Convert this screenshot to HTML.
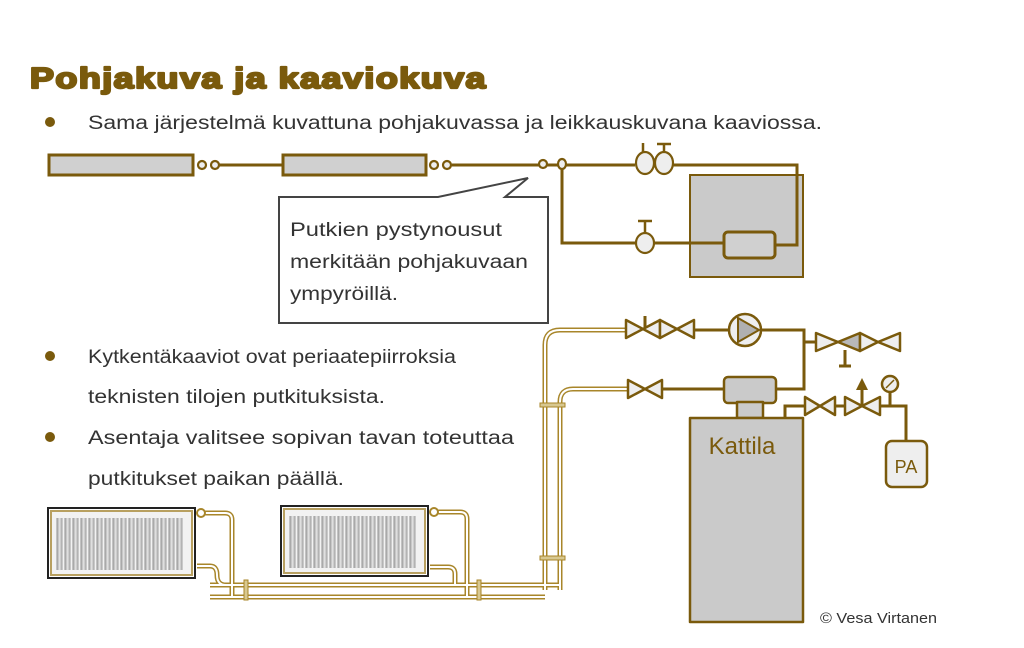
<!DOCTYPE html>
<html><head><meta charset="utf-8"><style>
html,body{margin:0;padding:0;background:#fff;}
svg{display:block;}
text{font-family:"Liberation Sans",sans-serif;}
</style></head><body>
<svg width="1024" height="648" viewBox="0 0 1024 648" xmlns="http://www.w3.org/2000/svg">
<defs>
<linearGradient id="fin" x1="0" y1="0" x2="1" y2="0"><stop offset="0" stop-color="#8a8a8a"/><stop offset="0.5" stop-color="#e6e6e6"/><stop offset="1" stop-color="#9a9a9a"/></linearGradient>
<pattern id="fins1" x="56" y="0" width="8" height="648" patternUnits="userSpaceOnUse"><rect x="0.5" y="0" width="6" height="648" fill="url(#fin)"/></pattern>
<pattern id="fins2" x="289" y="0" width="8" height="648" patternUnits="userSpaceOnUse"><rect x="0.5" y="0" width="6" height="648" fill="url(#fin)"/></pattern>
</defs>
<rect width="1024" height="648" fill="#fff"/>
<!-- title -->
<text x="30" y="88" font-size="29" font-weight="bold" fill="#7a5a0c" letter-spacing="1.2" textLength="457" lengthAdjust="spacingAndGlyphs" stroke="#7a5a0c" stroke-width="2.2" stroke-linejoin="round">Pohjakuva ja kaaviokuva</text>
<g fill="#333" font-size="19">
<circle cx="50" cy="122" r="5" fill="#7a5a0c"/>
<text x="88" y="129" textLength="734" lengthAdjust="spacingAndGlyphs">Sama järjestelmä kuvattuna pohjakuvassa ja leikkauskuvana kaaviossa.</text>
<circle cx="50" cy="356" r="5" fill="#7a5a0c"/>
<text x="88" y="363" textLength="368" lengthAdjust="spacingAndGlyphs">Kytkentäkaaviot ovat periaatepiirroksia</text>
<text x="88" y="403" textLength="297" lengthAdjust="spacingAndGlyphs">teknisten tilojen putkituksista.</text>
<circle cx="50" cy="437" r="5" fill="#7a5a0c"/>
<text x="88" y="444" textLength="426" lengthAdjust="spacingAndGlyphs">Asentaja valitsee sopivan tavan toteuttaa</text>
<text x="88" y="485" textLength="256" lengthAdjust="spacingAndGlyphs">putkitukset paikan päällä.</text>
</g>
<!-- top plan -->
<g stroke="#7a5a0c" stroke-width="3" fill="#d0d0d0">
<rect x="690" y="175" width="113" height="102" stroke-width="2" fill="#cacaca"/>
<rect x="49" y="155" width="144" height="20"/>
<rect x="283" y="155" width="143" height="20"/>
<line x1="219" y1="165" x2="283" y2="165"/>
<line x1="452" y1="165" x2="539" y2="165"/>
<line x1="547" y1="165" x2="558" y2="165"/>
<line x1="566" y1="165" x2="635" y2="165"/>
<polyline points="673,165 797,165 797,245 775,245" fill="none"/>
<polyline points="562,169 562,243 636,243" fill="none"/>
<line x1="654" y1="243" x2="724" y2="243"/>
<rect x="724" y="232" width="51" height="26" rx="4"/>
<g fill="#eee" stroke-width="2.2">
<circle cx="202" cy="165" r="4"/><circle cx="215" cy="165" r="4"/>
<circle cx="434" cy="165" r="4"/><circle cx="447" cy="165" r="4"/>
<ellipse cx="543" cy="164" rx="4" ry="4"/><ellipse cx="562" cy="164" rx="4" ry="5"/>
<ellipse cx="645" cy="163" rx="9" ry="11"/><ellipse cx="664" cy="163" rx="9" ry="11"/>
<ellipse cx="645" cy="243" rx="9" ry="10"/>
</g>
<g fill="none" stroke-width="2.5">
<line x1="643" y1="143" x2="643" y2="152"/>
<line x1="664" y1="144" x2="664" y2="152"/><line x1="657" y1="144" x2="671" y2="144"/>
<line x1="645" y1="221" x2="645" y2="233"/><line x1="638" y1="221" x2="652" y2="221"/>
</g>
</g>
<!-- callout -->
<path d="M279,197 H438 L528,178 L505,197 H548 V323 H279 Z" fill="#fff" stroke="#444" stroke-width="2"/>
<g fill="#333" font-size="19">
<text x="290" y="236" textLength="212" lengthAdjust="spacingAndGlyphs">Putkien pystynousut</text>
<text x="290" y="268" textLength="238" lengthAdjust="spacingAndGlyphs">merkitään pohjakuvaan</text>
<text x="290" y="300" textLength="108" lengthAdjust="spacingAndGlyphs">ympyröillä.</text>
</g>
<!-- schematic pipes (double gold) -->
<g fill="none" stroke="#a8862a" stroke-width="5">
<path d="M545,590 V345 Q545,330 560,330 H626"/>
<path d="M560,590 V402 Q560,389 573,389 H628"/>
<path d="M210,597 H545"/>
<path d="M210,585 H560"/>
<path d="M197,513 H225 Q232,513 232,520 V597"/>
<path d="M197,566 H210 Q217,566 217,575 Q217,585 226,585"/>
<path d="M430,512 H460 Q467,512 467,519 V597"/>
<path d="M430,567 H448 Q455,567 455,574 V585"/>
</g>
<g fill="none" stroke="#fff" stroke-width="2">
<path d="M545,590 V345 Q545,330 560,330 H626"/>
<path d="M560,590 V402 Q560,389 573,389 H628"/>
<path d="M210,597 H545"/>
<path d="M210,585 H560"/>
<path d="M197,513 H225 Q232,513 232,520 V597"/>
<path d="M197,566 H210 Q217,566 217,575 Q217,585 226,585"/>
<path d="M430,512 H460 Q467,512 467,519 V597"/>
<path d="M430,567 H448 Q455,567 455,574 V585"/>
</g>
<g fill="#d8c890" stroke="#a8862a" stroke-width="1">
<rect x="540" y="403" width="25" height="4"/><rect x="540" y="556" width="25" height="4"/>
<rect x="244" y="580" width="4" height="20"/><rect x="477" y="580" width="4" height="20"/>
<circle cx="201" cy="513" r="4" fill="#fff" stroke-width="2"/><circle cx="434" cy="512" r="4" fill="#fff" stroke-width="2"/>
</g>
<!-- radiators -->
<g>
<rect x="48" y="508" width="147" height="70" fill="#fff" stroke="#222" stroke-width="2"/>
<rect x="51" y="511" width="141" height="64" fill="#f2f2f2" stroke="#b8a060" stroke-width="2"/>
<rect x="56" y="518" width="128" height="52" fill="url(#fins1)"/>
<rect x="281" y="506" width="147" height="70" fill="#fff" stroke="#222" stroke-width="2"/>
<rect x="284" y="509" width="141" height="64" fill="#f2f2f2" stroke="#b8a060" stroke-width="2"/>
<rect x="289" y="516" width="128" height="52" fill="url(#fins2)"/>
</g>
<!-- boiler schematic -->
<g stroke="#7a5a0c" stroke-width="3" fill="none">
<line x1="693" y1="330" x2="729" y2="330"/>
<polyline points="761,330 804,330 804,389 776,389"/>
<line x1="804" y1="342" x2="815" y2="342"/>
<line x1="662" y1="389" x2="724" y2="389"/>
<polyline points="785,418 785,406 805,406"/>
<line x1="835" y1="406" x2="845" y2="406"/>
<polyline points="880,406 906,406 906,441"/>
<line x1="890" y1="392" x2="890" y2="406"/>
<line x1="645" y1="316" x2="645" y2="330"/>
<line x1="845" y1="350" x2="845" y2="366"/><line x1="839" y1="366" x2="851" y2="366"/>
<line x1="862" y1="406" x2="862" y2="388"/>
</g>
<polygon points="856,390 868,390 862,378" fill="#7a5a0c"/>
<g stroke="#7a5a0c" stroke-width="2.5" fill="#eee" stroke-linejoin="round">
<polygon points="626,320 626,338 643,329"/><polygon points="660,320 660,338 643,329"/>
<polygon points="660,320 660,338 677,329"/><polygon points="694,320 694,338 677,329"/>
<polygon points="628,380 628,398 645,389"/><polygon points="662,380 662,398 645,389"/>
<polygon points="816,333 816,351 838,342"/><polygon points="860,333 860,351 838,342" fill="#b8b8b8"/>
<polygon points="860,333 860,351 878,342" fill="#eee"/>
<polygon points="878,342 900,333 900,351"/>
<polygon points="805,397 805,415 820,406"/><polygon points="835,397 835,415 820,406"/>
<polygon points="845,397 845,415 862,406"/><polygon points="880,397 880,415 862,406"/>
<circle cx="745" cy="330" r="16"/>
<circle cx="890" cy="384" r="8"/>
<rect x="724" y="377" width="52" height="26" rx="4" fill="#cacaca"/>
<rect x="737" y="402" width="26" height="16" fill="#cacaca"/>
<rect x="690" y="418" width="113" height="204" fill="#cacaca"/>
<rect x="886" y="441" width="41" height="46" rx="6" fill="#eee"/>
</g>
<polygon points="738,318 738,342 759,330" fill="#b0b0b0" stroke="#7a5a0c" stroke-width="2"/>
<line x1="886" y1="388" x2="894" y2="380" stroke="#7a5a0c" stroke-width="1.5"/>
<text x="742" y="454" font-size="24" fill="#7a5a0c" text-anchor="middle">Kattila</text>
<text x="906" y="473" font-size="18" fill="#7a5a0c" text-anchor="middle">PA</text>
<text x="820" y="623" font-size="15" fill="#333" textLength="117" lengthAdjust="spacingAndGlyphs">© Vesa Virtanen</text>
</svg>
</body></html>
